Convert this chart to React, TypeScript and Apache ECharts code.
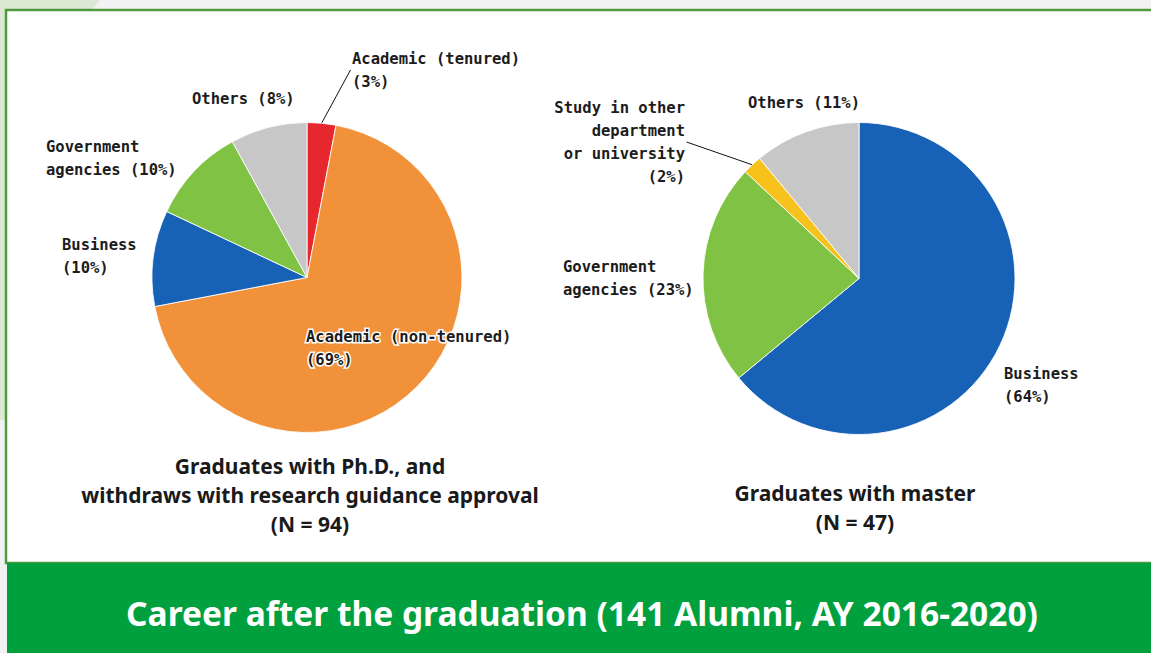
import React, { useEffect, useRef } from "react";
import * as echarts from "echarts";

// ---- data ----
const phdCategories = [
  "Academic (tenured)",
  "Academic (non-tenured)",
  "Business",
  "Government agencies",
  "Others",
];
const phdValues = [3, 69, 10, 10, 8];

const masterCategories = [
  "Business",
  "Government agencies",
  "Study in other department or university",
  "Others",
];
const masterValues = [64, 23, 2, 11];

const phdTitle = "Graduates with Ph.D., and\nwithdraws with research guidance approval\n(N = 94)";
const masterTitle = "Graduates with master\n(N = 47)";
const bannerText = "Career after the graduation (141 Alumni, AY 2016-2020)";

// ---- styles ----
const colorMap: Record<string, string> = {
  "Academic (tenured)": "#e6282e",
  "Academic (non-tenured)": "#f1913a",
  Business: "#1762b6",
  "Government agencies": "#80c243",
  Others: "#c7c7c7",
  "Study in other department or university": "#f8c21d",
};

type LabelSpec = { tpl: string; x: number; y: number; align: "left" | "right"; line: boolean };

const phdLabels: Record<string, LabelSpec> = {
  "Academic (tenured)": { tpl: "Academic (tenured)\n(#%)", x: 352, y: 47, align: "left", line: true },
  "Academic (non-tenured)": { tpl: "Academic (non-tenured)\n(#%)", x: 306, y: 325, align: "left", line: false },
  Business: { tpl: "Business\n(#%)", x: 62, y: 233, align: "left", line: false },
  "Government agencies": { tpl: "Government\nagencies (#%)", x: 46, y: 135, align: "left", line: false },
  Others: { tpl: "Others (#%)", x: 192, y: 87, align: "left", line: false },
};
const masterLabels: Record<string, LabelSpec> = {
  Business: { tpl: "Business\n(#%)", x: 1004, y: 362, align: "left", line: false },
  "Government agencies": { tpl: "Government\nagencies (#%)", x: 563, y: 255, align: "left", line: false },
  "Study in other department or university": {
    tpl: "Study in other\ndepartment\nor university\n(#%)",
    x: 685,
    y: 96,
    align: "right",
    line: true,
  },
  Others: { tpl: "Others (#%)", x: 748, y: 91, align: "left", line: false },
};

const labelFont = "'DejaVu Sans Mono', 'Liberation Mono', monospace";
const titleFont = "'Noto Sans', 'DejaVu Sans', sans-serif";

function buildData(cats: string[], vals: number[], specs: Record<string, LabelSpec>) {
  return cats.map((name, i) => ({
    name,
    value: vals[i],
    itemStyle: { color: colorMap[name] },
    labelLine: { show: specs[name].line },
  }));
}

function pieSeries(
  cats: string[],
  vals: number[],
  specs: Record<string, LabelSpec>,
  center: [number, number],
  radius: number
) {
  return {
    type: "pie",
    center,
    radius,
    startAngle: 90,
    clockwise: true,
    avoidLabelOverlap: false,
    data: buildData(cats, vals, specs),
    itemStyle: { borderColor: "rgba(255,255,255,0.85)", borderWidth: 1 },
    label: {
      show: true,
      position: "outside",
      fontFamily: labelFont,
      fontSize: 15.5,
      fontWeight: "bold",
      lineHeight: 23,
      color: "#1c1c1c",
      textBorderColor: "#ffffff",
      textBorderWidth: 3,
      formatter: (p: any) => specs[p.name].tpl.replace("#", String(p.value)),
    },
    labelLine: {
      show: true,
      length: 0,
      length2: 0,
      lineStyle: { color: "#111", width: 1 },
    },
    labelLayout: (p: any) => {
      const name = cats[p.dataIndex];
      const s = specs[name];
      return { x: s.x, y: s.y, align: s.align, verticalAlign: "top" };
    },
  };
}

export default function App() {
  const ref = useRef<HTMLDivElement>(null);
  useEffect(() => {
    document.body.style.margin = "0";
    const chart = echarts.init(ref.current!, null, { renderer: "svg" });
    chart.setOption({
      animation: false,
      backgroundColor: "#f2f2f2",
      graphic: [
        { type: "polygon", z: -10, shape: { points: [[0, 0], [100, 0], [92, 10], [6, 10], [6, 420], [0, 420]] }, style: { fill: "#dbe9d4" } },
        { type: "rect", z: -9, shape: { x: 6, y: 10, width: 1160, height: 553 }, style: { fill: "#ffffff", stroke: "#4f9a3f", lineWidth: 2.5 } },
        { type: "rect", z: -8, shape: { x: 7, y: 563, width: 1150, height: 95 }, style: { fill: "#00a03f" } },
      ],
      title: [
        {
          text: phdTitle,
          left: 310,
          top: 451,
          textAlign: "center",
          padding: 0,
          textStyle: { fontFamily: titleFont, fontSize: 21, fontWeight: "bold", lineHeight: 29, color: "#1a1a1a" },
        },
        {
          text: masterTitle,
          left: 855,
          top: 478,
          textAlign: "center",
          padding: 0,
          textStyle: { fontFamily: titleFont, fontSize: 21, fontWeight: "bold", lineHeight: 29, color: "#1a1a1a" },
        },
        {
          text: bannerText,
          left: 582,
          top: 593,
          textAlign: "center",
          padding: 0,
          textStyle: { fontFamily: titleFont, fontSize: 33.5, fontWeight: "bold", lineHeight: 40, color: "#ffffff" },
        },
      ],
      series: [
        pieSeries(phdCategories, phdValues, phdLabels, [307, 277.5], 155),
        pieSeries(masterCategories, masterValues, masterLabels, [859, 278.5], 156),
      ],
    });
    return () => chart.dispose();
  }, []);
  return <div ref={ref} style={{ position: "absolute", left: 0, top: 0, width: 1151, height: 653 }} />;
}
